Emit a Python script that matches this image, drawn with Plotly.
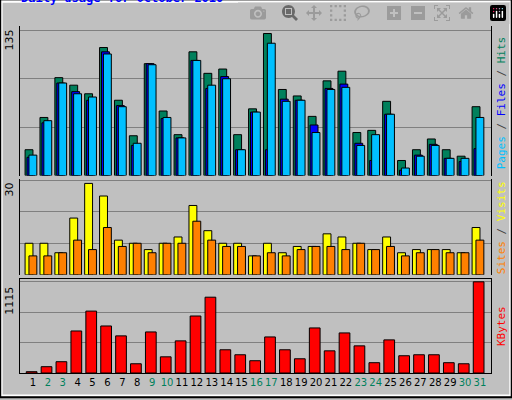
import plotly.graph_objects as go

# --- Data (Webalizer, October 2010) ---
days = list(range(1, 32))
hits = [24, 54, 91, 84, 76, 119, 70, 37, 104, 60, 38, 115, 95, 99, 38, 62,
        132, 80, 74, 55, 88, 97, 40, 42, 69, 14, 24, 34, 24, 18, 64]
files = [17, 49, 86, 78, 70, 115, 65, 28, 104, 53, 35, 107, 81, 92, 24, 59,
         24, 71, 70, 47, 81, 85, 30, 14, 57, 5, 19, 29, 16, 13, 25]
pages = [19, 51, 86, 76, 73, 113, 64, 30, 103, 54, 35, 107, 84, 90, 24, 59,
         123, 69, 70, 40, 80, 82, 28, 38, 57, 7, 18, 28, 16, 16, 54]
sites = [10, 10, 7, 18, 29, 25, 11, 10, 8, 10, 12, 22, 14, 10, 10, 6,
         10, 7, 9, 9, 13, 12, 10, 8, 12, 7, 8, 8, 8, 7, 15]
visits = [6, 6, 7, 11, 8, 15, 9, 10, 7, 10, 10, 17, 11, 9, 9, 6,
          7, 6, 8, 9, 9, 8, 10, 8, 9, 6, 7, 8, 7, 7, 11]
kbytes = [16, 77, 138, 514, 757, 575, 454, 113, 502, 198, 393, 697, 927, 284, 223, 150,
          441, 284, 174, 551, 271, 490, 332, 126, 405, 211, 223, 223, 126, 113, 1115]
weekend = [2, 3, 9, 10, 16, 17, 23, 24, 30, 31]

GREEN = "#00805C"
ticktext = [f"<span style='color:{GREEN}'>{d}</span>" if d in weekend else str(d) for d in days]

fig = go.Figure()
line = dict(color="black", width=1)

def bars(y, color, offset, width, axis):
    fig.add_trace(go.Bar(x=days, y=y, marker=dict(color=color, line=line),
                         offset=offset, width=width, yaxis=axis, hoverinfo="y"))

# top panel: hits / files / pages
bars(hits, GREEN, -0.53, 0.53, "y")
bars(files, "#0000FF", -0.4, 0.53, "y")
bars(pages, "#00C0FF", -0.27, 0.53, "y")
# middle panel: sites / visits
bars(sites, "#FFFF00", -0.53, 0.53, "y2")
bars(visits, "#FF8000", -0.27, 0.53, "y2")
# bottom panel: kbytes
bars(kbytes, "#FF0000", -0.45, 0.72, "y3")

ax = dict(showline=True, linecolor="black", mirror=True, showticklabels=False,
          gridcolor="#808080", zeroline=False, ticks="")
fig.update_layout(
    width=512, height=400, barmode="overlay", showlegend=False,
    paper_bgcolor="#C0C0C0", plot_bgcolor="#C0C0C0",
    margin=dict(l=20, r=21, t=26, b=24),
    font=dict(family="DejaVu Sans Mono", size=11, color="black"),
    xaxis=dict(range=[0.13, 31.74], tickvals=days, ticktext=ticktext, showline=True,
               linecolor="black", mirror=True, showgrid=False, anchor="y3", tickangle=0,
               tickfont=dict(family="DejaVu Sans", size=10)),
    yaxis=dict(ax, domain=[0.569, 1], range=[0, 139], dtick=45),
    yaxis2=dict(ax, domain=[0.283, 0.56], range=[0, 30.5], dtick=10),
    yaxis3=dict(ax, domain=[0, 0.271], range=[0, 1150], dtick=372),
)

# axis maximum labels on the left
for txt, y in [("135", 0.995), ("30", 0.555), ("1115", 0.255)]:
    fig.add_annotation(text=txt, x=-0.005, y=y, xref="paper", yref="paper",
                       xanchor="right", yanchor="top", textangle=-90, showarrow=False,
                       font=dict(family="DejaVu Sans", size=11))

# series labels on the right
right = [
    (f"<span style='color:#00C0FF'>Pages</span> / <span style='color:#0000FF'>Files</span>"
     f" / <span style='color:{GREEN}'>Hits</span>", 0.78),
    ("<span style='color:#FF8000'>Sites</span> / <span style='color:#FFFF00'>Visits</span>", 0.42),
    ("<span style='color:#FF0000'>KBytes</span>", 0.135),
]
for txt, y in right:
    fig.add_annotation(text=txt, x=1.003, y=y, xref="paper", yref="paper",
                       xanchor="left", yanchor="middle", textangle=-90, showarrow=False,
                       font=dict(family="DejaVu Sans Mono", size=11, color="#404040"))

fig.add_annotation(text="<b>Daily usage for October 2010</b>", x=-0.003, y=1.055,
                   xref="paper", yref="paper", xanchor="left", yanchor="bottom",
                   showarrow=False, font=dict(family="DejaVu Sans Mono", size=12, color="#0000FF"))

# 3D-style frame around the image
fig.add_shape(type="rect", xref="paper", yref="paper", x0=-0.039, x1=1.041, y0=-0.065, y1=1.07,
              line=dict(color="white", width=2))
fig.add_shape(type="rect", xref="paper", yref="paper", x0=-0.042, x1=1.044, y0=-0.07, y1=1.077,
              line=dict(color="black", width=2))

fig.write_html("out.html", post_script="document.body.style.margin='0';")
